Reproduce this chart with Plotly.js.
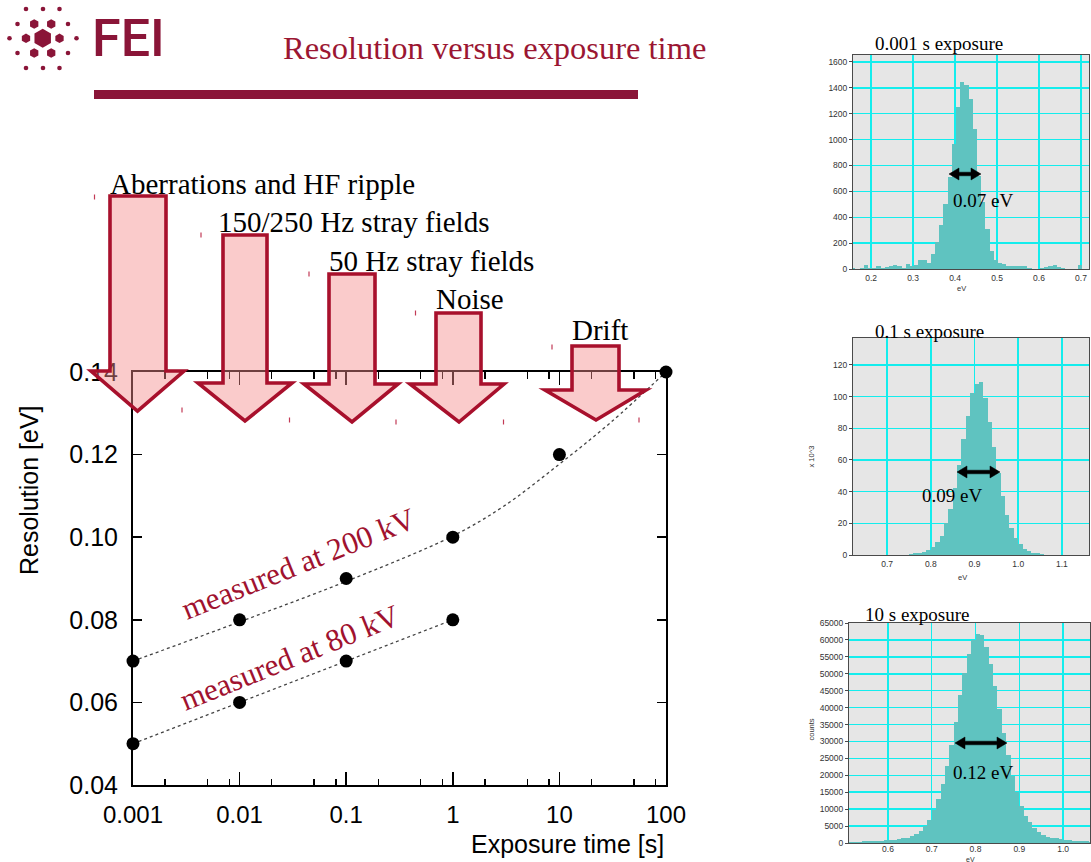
<!DOCTYPE html>
<html><head><meta charset="utf-8">
<script src="https://cdn.plot.ly/plotly-3.0.1.min.js"></script>
<style>body{margin:0;background:#fff}#chart{width:1091px;height:862px}</style>
</head><body><div id="chart"></div>
<script>
// ---------------- data ----------------
const exposureTimes = [0.001, 0.01, 0.1, 1, 10, 100];
const exposureLabels = ['0.001', '0.01', '0.1', '1', '10', '100'];
const res200 = [0.07, 0.08, 0.09, 0.10, 0.12, 0.14];
// dashed guide curve through the 200 kV points
const fit200Times = [0.001, 0.01, 0.1, 1, 3, 10, 30, 100];
const fit200 = [0.0700, 0.0795, 0.0893, 0.1003, 0.1075, 0.1177, 0.1277, 0.1400];
const exposureTimes80 = [0.001, 0.01, 0.1, 1];
const res80 = [0.05, 0.06, 0.07, 0.08];
const fit80 = [0.05, 0.06, 0.07, 0.08];
const resTicks = [0.04, 0.06, 0.08, 0.10, 0.12, 0.14];
const resTickLabels = ['0.04', '0.06', '0.08', '0.10', '0.12', '0.14'];
const minorDigits = [2, 5, 8];
const arrowLabels = ['Aberrations and HF ripple', '150/250 Hz stray fields', '50 Hz stray fields', 'Noise', 'Drift'];
const seriesLabels = ['measured at 200 kV', 'measured at 80 kV'];

// histogram 0.001 s (bin width 0.01 eV, first bin centre 0.1575)
const hist1Counts = [10,0,5,28,5,8,20,10,15,25,28,25,10,38,25,28,70,70,45,118,211,340,500,708,969,1252,1443,1419,1311,1084,721,520,312,142,72,50,40,25,25,22,25,25,5,0,0,5,12,20,30,15,5,0,0,0,30,0,0];
// histogram 0.1 s (x 10^3, first bin centre 0.755)
const hist2Counts = [0.5,1,1.5,2,3,5,8,12,20,29,42,57,73,88,102,108,109,99,84,68,52,37,25,17,11,7,4,2.5,1.5,1,0.5,0.2];
// histogram 10 s (counts, first bin centre 0.515)
const hist3Counts = [250,300,350,450,550,600,650,700,750,850,950,1080,1375,1570,1960,2550,3440,4910,6870,9820,12960,17380,22880,28970,35840,43600,50270,55970,60100,61860,61370,57930,53020,46345,39670,32400,25920,19830,15020,10800,8050,6090,4520,3240,2450,1865,1570,1380,1180,980,785,650,550,490,450,400];
const histTitles = ['0.001 s exposure', '0.1 s exposure', '10 s exposure'];
const fwhmLabels = ['0.07 eV', '0.09 eV', '0.12 eV'];

// ---------------- layout helpers ----------------
const W = 1091, H = 862;
const px = x => x / W;
const py = y => 1 - y / H;
const MAROON = '#8a1538';
const CRIMSON = '#a0122f';
const SERIF = 'Liberation Serif, Times New Roman, serif';
const SANS = 'Liberation Sans, Arial, sans-serif';

function pathFrom(pts) {
  return 'M ' + pts.map(p => px(p[0]).toFixed(5) + ',' + py(p[1]).toFixed(5)).join(' L ') + ' Z';
}

const minorTicks = [];
exposureTimes.slice(0, -1).forEach(d => minorDigits.forEach(m => minorTicks.push(d * m)));

const shapes = [];
const annotations = [];

// red bar under title
shapes.push({type:'rect', xref:'paper', yref:'paper', x0:px(94), x1:px(638), y0:py(99), y1:py(90), fillcolor:MAROON, line:{width:0}});

// logo
function hexPath(cx, cy, r) {
  const pts = [];
  for (let k = 0; k < 6; k++) { const a = (-90 + 60 * k) * Math.PI / 180; pts.push([cx + r * Math.cos(a), cy + r * Math.sin(a)]); }
  return pathFrom(pts);
}
const logoC = [42.7, 38.3];
shapes.push({type:'path', xref:'paper', yref:'paper', path:hexPath(logoC[0], logoC[1], 9.5), fillcolor:MAROON, line:{width:0}});
const ringHex = [[34.2,24],[51.2,24],[59.5,38.3],[51.2,53],[34.2,53],[26,38.3]];
ringHex.forEach(p => shapes.push({type:'path', xref:'paper', yref:'paper', path:hexPath(p[0], p[1], 4.8), fillcolor:MAROON, line:{width:0}}));
const ringDots = [[26,9],[43,9],[59.5,9],[17.5,24],[68,24],[9.5,38.3],[76.5,38.3],[17.5,53],[68,53],[26,68],[43,68],[59.5,68]];
ringDots.forEach(p => shapes.push({type:'circle', xref:'paper', yref:'paper', x0:px(p[0]-2.3), x1:px(p[0]+2.3), y0:py(p[1]+2.3), y1:py(p[1]-2.3), fillcolor:MAROON, line:{width:0}}));
annotations.push({xref:'paper', yref:'paper', x:px(90), y:py(39), xanchor:'left', yanchor:'middle', showarrow:false, text:'FEI', font:{family:'Roboto, Liberation Sans, sans-serif', size:52, weight:500, color:MAROON}});

// title
annotations.push({xref:'paper', yref:'paper', x:px(281), y:py(48), xanchor:'left', yanchor:'middle', showarrow:false, text:'Resolution versus exposure time', font:{family:SERIF, size:32.5, color:'#9b1632'}});

// big block arrows
const arrowGeom = [
  {L:110, R:166, T:196, Wy:371, WL:91,  WR:184, TX:137.5, TY:411, lx:108, ly:184},
  {L:223, R:267, T:235, Wy:383, WL:198, WR:292, TX:245,   TY:421, lx:216, ly:222},
  {L:329, R:375, T:274, Wy:384, WL:304, WR:398, TX:352,   TY:422, lx:327, ly:261},
  {L:436, R:481, T:313, Wy:384, WL:410, WR:504, TX:459,   TY:422, lx:434, ly:299},
  {L:572, R:619, T:346, Wy:390, WL:545, WR:646, TX:596,   TY:420, lx:570, ly:330}
];
arrowGeom.forEach((g, i) => {
  shapes.push({type:'path', xref:'paper', yref:'paper', layer:'above',
    path:pathFrom([[g.L,g.T],[g.R,g.T],[g.R,g.Wy],[g.WR,g.Wy],[g.TX,g.TY],[g.WL,g.Wy],[g.L,g.Wy]]),
    fillcolor:'rgba(245,140,140,0.45)', line:{color:'#a8102c', width:3.6}});
  annotations.push({xref:'paper', yref:'paper', x:px(g.lx), y:py(g.ly), xanchor:'left', yanchor:'middle', showarrow:false,
    text:arrowLabels[i], font:{family:SERIF, size:29, color:'#000'}});
});
// small red marks around arrows
const marks = [[94.5,197],[201,235],[309,274],[415.5,313],[552,347],[182,410],[289.5,420],[396,422],[503.5,422],[639,420]];
marks.forEach(m => shapes.push({type:'line', xref:'paper', yref:'paper', x0:px(m[0]), x1:px(m[0]), y0:py(m[1]-2.5), y1:py(m[1]+2.5), line:{color:'#c23a55', width:1.2}}));

// main axis titles
annotations.push({xref:'paper', yref:'paper', x:px(666), y:py(844), xanchor:'right', yanchor:'middle', showarrow:false, text:'Exposure time [s]', font:{family:SANS, size:25, color:'#000'}});
annotations.push({xref:'paper', yref:'paper', x:px(29), y:py(490), xanchor:'center', yanchor:'middle', textangle:-90, showarrow:false, text:'Resolution [eV]', font:{family:SANS, size:25, color:'#000'}});

// series labels in data coordinates (x is log10 of exposure time)
annotations.push({xref:'x', yref:'y', x:-1.445, y:0.0937, showarrow:false, textangle:-22, text:seriesLabels[0], font:{family:SERIF, size:31, color:CRIMSON}});
annotations.push({xref:'x', yref:'y', x:-1.527, y:0.0709, showarrow:false, textangle:-22, text:seriesLabels[1], font:{family:SERIF, size:31, color:CRIMSON}});

// histogram backgrounds
['x2','x3','x4'].forEach((xa, i) => {
  const ya = 'y' + (i + 2);
  shapes.push({type:'rect', xref:xa + ' domain', yref:ya + ' domain', x0:0, x1:1, y0:0, y1:1, fillcolor:'#e6e6e6', line:{width:0}, layer:'below'});
});

// double-headed FWHM arrows
function dblArrow(x1, x2, y) {
  const hl = 10, hh = 6, st = 1.8;
  return pathFrom([[x1,y],[x1+hl,y-hh],[x1+hl,y-st],[x2-hl,y-st],[x2-hl,y-hh],[x2,y],[x2-hl,y+hh],[x2-hl,y+st],[x1+hl,y+st],[x1+hl,y+hh]]);
}
const fwhmGeom = [
  {x1:949, x2:981, y:174, tx:983, ty:200},
  {x1:957, x2:1000, y:472, tx:952, ty:495},
  {x1:955, x2:1007, y:743, tx:983, ty:772}
];
fwhmGeom.forEach((g, i) => {
  shapes.push({type:'path', xref:'paper', yref:'paper', layer:'above', path:dblArrow(g.x1, g.x2, g.y), fillcolor:'#000', line:{color:'#000', width:0.5}});
  annotations.push({xref:'paper', yref:'paper', x:px(g.tx), y:py(g.ty), xanchor:'center', yanchor:'middle', showarrow:false, text:fwhmLabels[i], font:{family:SERIF, size:19, color:'#000'}});
});
const histTitlePos = [[873,44],[873,332],[863,614]];
histTitlePos.forEach((p, i) => annotations.push({xref:'paper', yref:'paper', x:px(p[0]), y:py(p[1]), xanchor:'left', yanchor:'middle', showarrow:false, text:histTitles[i], font:{family:SERIF, size:19, color:'#000'}}));
// histogram axis titles
const smallFont = {family:SANS, size:7.5, color:'#333'};
annotations.push({xref:'paper', yref:'paper', x:px(968), y:py(288), yanchor:'middle', showarrow:false, text:'eV', font:smallFont});
annotations.push({xref:'paper', yref:'paper', x:px(969), y:py(577), yanchor:'middle', showarrow:false, text:'eV', font:smallFont});
annotations.push({xref:'paper', yref:'paper', x:px(976), y:py(859.5), yanchor:'middle', showarrow:false, borderpad:0, text:'eV', font:{family:SANS, size:7, color:'#333'}});
annotations.push({xref:'paper', yref:'paper', x:px(817), y:py(457), textangle:-90, showarrow:false, text:'x 10^3', font:smallFont});
annotations.push({xref:'paper', yref:'paper', x:px(817), y:py(743), textangle:-90, showarrow:false, text:'counts', font:smallFont});

// ---------------- traces ----------------
const dash = {color:'#444', width:1.3, dash:'3px,3px'};
const traces = [
  {x:fit200Times, y:fit200, mode:'lines', line:Object.assign({shape:'spline', smoothing:1}, dash), xaxis:'x', yaxis:'y', hoverinfo:'skip'},
  {x:exposureTimes80, y:fit80, mode:'lines', line:dash, xaxis:'x', yaxis:'y', hoverinfo:'skip'},
  {x:exposureTimes, y:res200, mode:'markers', marker:{color:'#000', size:13}, cliponaxis:false, xaxis:'x', yaxis:'y'},
  {x:exposureTimes80, y:res80, mode:'markers', marker:{color:'#000', size:13}, cliponaxis:false, xaxis:'x', yaxis:'y'},
  {type:'bar', x0:0.1575, dx:0.01, y:hist1Counts, marker:{color:'#5fc3c0', line:{width:0}}, xaxis:'x2', yaxis:'y2'},
  {type:'bar', x0:0.755, dx:0.01, y:hist2Counts, marker:{color:'#5fc3c0', line:{width:0}}, xaxis:'x3', yaxis:'y3'},
  {type:'bar', x0:0.515, dx:0.01, y:hist3Counts, marker:{color:'#5fc3c0', line:{width:0}}, xaxis:'x4', yaxis:'y4'}
];

// ---------------- axes ----------------
const histX = (dom, anchor, range, fmt, sto) => ({domain:dom, anchor:anchor, range:range, dtick:0.1, tick0:0, tickformat:fmt,
  showgrid:true, gridcolor:'#14eded', gridwidth:1.5, zeroline:false, showline:true, mirror:true, linecolor:'#4a4a4a', linewidth:1,
  ticks:'', tickfont:{family:SANS, size:8.5, color:'#333'}, ticklabelstandoff:sto});
const histY = (dom, anchor, range, dt) => ({domain:dom, anchor:anchor, range:range, dtick:dt, tickformat:'d',
  showgrid:true, gridcolor:'#14eded', gridwidth:1.5, zeroline:false, showline:true, mirror:true, linecolor:'#4a4a4a', linewidth:1,
  ticks:'outside', ticklen:3, tickcolor:'#4a4a4a', tickfont:{family:SANS, size:8.5, color:'#333'}, ticklabelstandoff:0});

const layout = {
  width:W, height:H, margin:{l:0, r:0, t:0, b:0}, paper_bgcolor:'#fff', plot_bgcolor:'rgba(0,0,0,0)',
  showlegend:false, bargap:0, hovermode:false,
  xaxis:{domain:[px(133), px(666)], anchor:'y', type:'log', range:[-3, 2], tickmode:'array', tickvals:exposureTimes, ticktext:exposureLabels,
    ticks:'inside', ticklen:13, tickwidth:1.5, tickcolor:'#000', showline:true, linecolor:'#000', linewidth:2, mirror:'allticks',
    showgrid:false, zeroline:false, tickfont:{family:SANS, size:24, color:'#000'}, ticklabelstandoff:7,
    minor:{tickmode:'array', tickvals:minorTicks, ticks:'inside', ticklen:6.5, tickwidth:1.5, tickcolor:'#000', showgrid:false}},
  yaxis:{domain:[py(785), py(372)], anchor:'x', range:[0.04, 0.14], tickmode:'array', tickvals:resTicks, ticktext:resTickLabels,
    ticks:'inside', ticklen:9, tickwidth:1.5, tickcolor:'#000', showline:true, linecolor:'#000', linewidth:2, mirror:'allticks',
    showgrid:false, zeroline:false, tickfont:{family:SANS, size:25, color:'#000'}, ticklabelstandoff:8},
  xaxis2:histX([px(853), px(1089)], 'y2', [0.157, 0.719], '.1f', 1),
  yaxis2:histY([py(269), py(55)], 'x2', [0, 1654], 200),
  xaxis3:histX([px(853), px(1089)], 'y3', [0.622, 1.162], '.1f', 1),
  yaxis3:histY([py(555), py(338)], 'x3', [0, 137], 20),
  xaxis4:histX([px(849), px(1090)], 'y4', [0.511, 1.0615], '.1f', -2),
  yaxis4:histY([py(843), py(623)], 'x4', [0, 65000], 5000),
  shapes:shapes, annotations:annotations
};

Plotly.newPlot('chart', traces, layout, {staticPlot:true, displayModeBar:false});
</script>
</body></html>
